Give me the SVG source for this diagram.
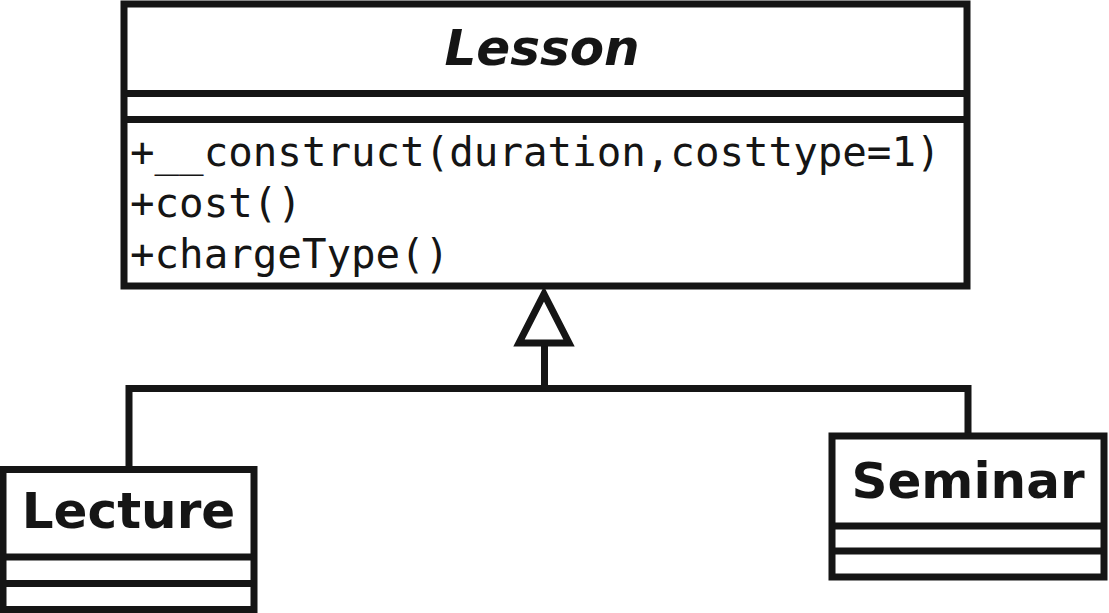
<svg xmlns="http://www.w3.org/2000/svg" width="1109" height="613" viewBox="0 0 1109 613">
<style>
.box{fill:#fff;stroke:#151515;stroke-width:7}
.ln{fill:none;stroke:#151515;stroke-width:7}
.name{font-family:"DejaVu Sans",sans-serif;font-weight:bold;font-size:50px;fill:#151515;text-anchor:middle}
.abs{font-style:italic}
.op{font-family:"DejaVu Sans Mono",monospace;font-size:40.8px;fill:#151515}
</style>
<rect width="1109" height="613" fill="#fff"/>
<g id="connectors">
<polyline class="ln" points="129,466 129,388.5 968,388.5 968,436"/>
<line class="ln" x1="544.5" y1="388.5" x2="544.5" y2="344"/>
<polygon class="ln" points="544,294 569,343 519,343" stroke-linejoin="miter"/>
</g>
<g id="Lesson">
<rect class="box" x="124" y="4" width="843" height="282"/>
<line class="ln" x1="124" y1="93.5" x2="967" y2="93.5"/>
<line class="ln" x1="124" y1="119.5" x2="967" y2="119.5"/>
<text class="name abs" x="542" y="65">Lesson</text>
<text class="op" x="130" y="166">+__construct(duration,costtype=1)</text>
<text class="op" x="130" y="217">+cost()</text>
<text class="op" x="130" y="268">+chargeType()</text>
</g>
<g id="Lecture">
<rect class="box" x="3" y="469.5" width="251" height="140"/>
<line class="ln" x1="3" y1="557" x2="254" y2="557"/>
<line class="ln" x1="3" y1="583.5" x2="254" y2="583.5"/>
<text class="name" x="128.5" y="528">Lecture</text>
</g>
<g id="Seminar">
<rect class="box" x="832" y="436" width="272" height="141"/>
<line class="ln" x1="832" y1="526" x2="1104" y2="526"/>
<line class="ln" x1="832" y1="551" x2="1104" y2="551"/>
<text class="name" x="968" y="498">Seminar</text>
</g>
</svg>
